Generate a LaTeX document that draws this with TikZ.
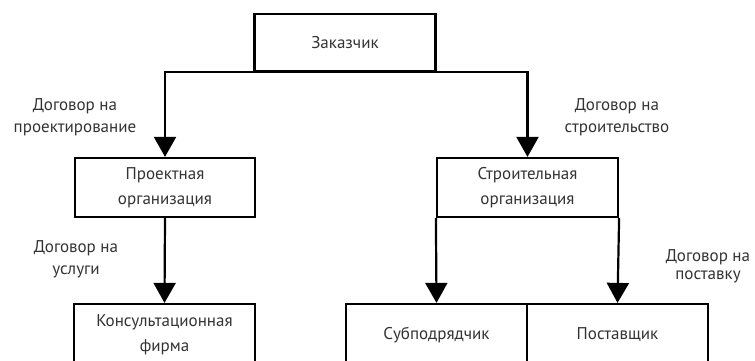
\documentclass[tikz,border=0pt]{standalone}
\usepackage{fontspec}
\setmainfont{PT Sans}
\usetikzlibrary{arrows.meta}
\tikzset{
  box/.style={draw,line width=2.2pt,align=center,minimum width=181pt,inner sep=0pt,
    font=\fontsize{17}{25}\selectfont,text=black!80},
  note/.style={align=center,font=\fontsize{17}{22}\selectfont,text=black!80},
  tip/.style={line width=2.2pt,-{Triangle[length=20pt,width=22pt]}}
}
\begin{document}
\begin{tikzpicture}[x=1pt,y=-1pt]
\useasboundingbox (0,0) rectangle (755,361);
\clip (0,0) rectangle (755,361);
\path
(345,42.5) node[box,minimum height=57pt](Z){Заказчик}
(165,187.5) node[box,minimum width=180pt,minimum height=59pt](PO){Проектная\\организация}
(527.5,187.5) node[box,minimum height=59pt](SO){Строительная\\организация}
(164.5,335) node[box,minimum height=62pt](KF){Консультационная\\фирма}
(436.5,335) node[box,minimum height=62pt](SP){Субподрядчик}
(617.5,335) node[box,minimum height=62pt](PS){Поставщик};
\path[draw,tip] (Z.south) -| (PO.north);
\path[draw,tip] (Z.south) -| (SO.north);
\path[draw,tip] (PO.south) -- (KF.north);
\path[draw,tip] (SO.south west) -- (SP.north);
\path[draw,tip] (SO.south east) -- (PS.north);
\path
(75,117) node[note](n1){Договор на\\проектирование}
(617,117) node[note](n2){Договор на\\строительство}
(76,259) node[note](n3){Договор на\\услуги}
(708,266) node[note,font=\fontsize{17}{18}\selectfont](n4){Договор на\\поставку};
\end{tikzpicture}
\end{document}
